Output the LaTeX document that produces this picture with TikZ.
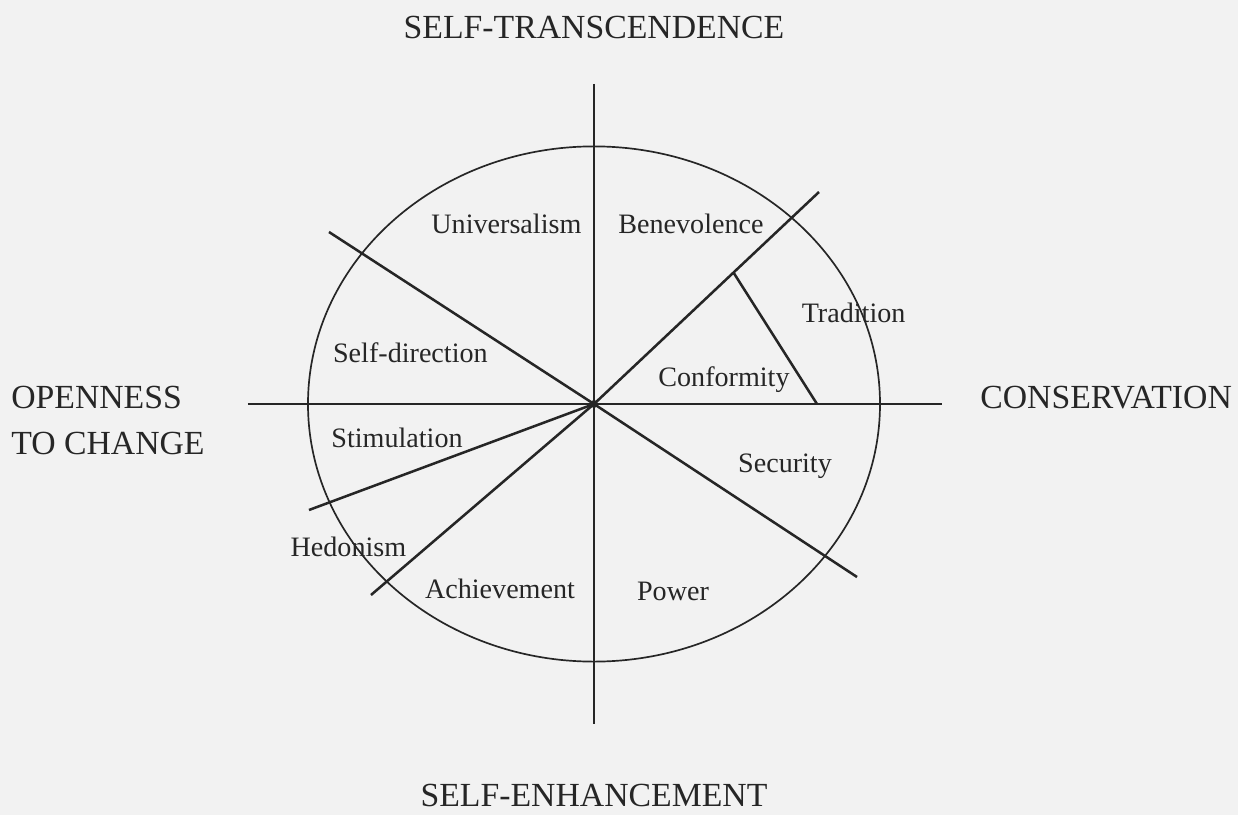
\documentclass[tikz,border=0pt]{standalone}
\usepackage{fontspec}
\setmainfont{Liberation Serif}
\usetikzlibrary{calc}

\begin{document}
\begin{tikzpicture}[
    axis/.style={line width=1.2pt, draw=black!85},
    spoke/.style={line width=1.8pt, draw=black!85},
    value/.style={font=\fontsize{20}{24}\selectfont, text=black!85, anchor=base, inner sep=0pt},
    pole/.style={font=\fontsize{24}{32.6}\selectfont, text=black!85, inner sep=0pt}
]

% Background
\fill[black!5] (-14.85,-10.275) rectangle (16.1,10.1);
\useasboundingbox (-14.85,-10.275) rectangle (16.1,10.1);

% Centre and axis ends
\coordinate (o) at (0,0);
\coordinate (top) at (0,8);
\coordinate (bot) at (0,-8);
\coordinate (lft) at (-8.65,0);
\coordinate (rgt) at (8.7,0);

% Circle and axes
\draw[axis] (o) ellipse (7.15 and 6.44);
\draw[axis] (top) -- (bot);
\draw[axis] (lft) -- (rgt);

% Spokes
\coordinate (ul) at (-6.625,4.3);
\coordinate (ur) at (5.625,5.3);
\coordinate (lr) at (6.575,-4.325);
\coordinate (ll) at (-7.125,-2.65);
\coordinate (bl) at (-5.575,-4.775);
\draw[spoke] (o) -- (ul);
\draw[spoke] (o) -- (ur);
\draw[spoke] (o) -- (lr);
\draw[spoke] (o) -- (ll);
\draw[spoke] (o) -- (bl);

% Tradition / Conformity split
\coordinate (tc1) at ($(o)!0.62!(ur)$);
\coordinate (tc2) at (5.575,0);
\draw[spoke] (tc1) -- (tc2);

\fill[black!85] (o) circle (0.1);

% Values
\node[value] (univ) at (-2.19,4.275) {Universalism};
\node[value] (bene) at (2.425,4.275) {Benevolence};
\node[value] (trad) at (6.49,2.05) {Tradition};
\node[value] (selfd) at (-4.59,1.05) {Self-direction};
\node[value] (conf) at (3.25,0.45) {Conformity};
\node[value] (stim) at (-4.925,-1.075) {Stimulation};
\node[value] (secu) at (4.775,-1.7) {Security};
\node[value] (hedo) at (-6.14,-3.8) {Hedonism};
\node[value] (achi) at (-2.35,-4.85) {Achievement};
\node[value] (powr) at (1.975,-4.9) {Power};

% Poles
\node[pole, anchor=base] (trans) at (0,9.125) {SELF-TRANSCENDENCE};
\node[pole, anchor=base] (enha) at (0,-10.05) {SELF-ENHANCEMENT};
\node[pole, anchor=base west] (cons) at (9.65,-0.1) {CONSERVATION};
\node[pole, anchor=base west, align=left] (open) at (-14.575,-1.25) {OPENNESS\\TO CHANGE};

\end{tikzpicture}
\end{document}
